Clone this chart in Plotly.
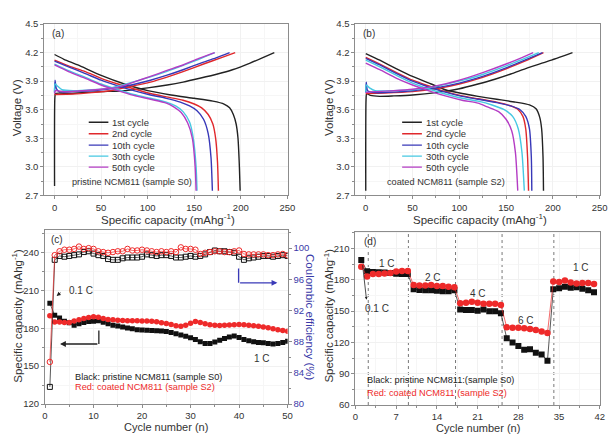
import plotly.graph_objects as go

FONT = "Arial, Liberation Sans, sans-serif"
TXT = "#333333"

# ---------------- Panel (a): pristine NCM811 charge/discharge ----------------
cycle_names = ["1st cycle", "2nd cycle", "10th cycle", "30th cycle", "50th cycle"]
cycle_colors = ["#222222", "#e0282c", "#3838b8", "#46c8e2", "#b43cc4"]

a_chg_x = [
    [0, 0.3, 1, 5, 15, 30, 50, 75, 100, 121, 138, 156, 175, 191, 210, 236],
    [0, 20, 40, 60, 80, 103, 120, 138, 160, 180, 194],
    [0, 0.5, 2, 5, 20, 40, 60, 80, 103, 120, 138, 160, 175, 188],
    [0, 0.5, 3, 8, 20, 40, 60, 80, 103, 120, 138, 155, 172],
    [0, 1, 10, 30, 50, 68, 85, 103, 120, 138, 155, 172],
]
a_chg_v = [
    [2.8, 3.72, 3.77, 3.775, 3.77, 3.78, 3.79, 3.80, 3.83, 3.86, 3.89, 3.93, 3.975, 4.02, 4.09, 4.2],
    [3.76, 3.765, 3.78, 3.80, 3.84, 3.89, 3.94, 4.00, 4.08, 4.15, 4.2],
    [3.78, 3.91, 3.82, 3.79, 3.79, 3.80, 3.82, 3.855, 3.91, 3.96, 4.02, 4.10, 4.15, 4.2],
    [3.78, 3.87, 3.85, 3.81, 3.80, 3.81, 3.83, 3.88, 3.945, 4.00, 4.065, 4.13, 4.2],
    [3.77, 3.80, 3.79, 3.80, 3.815, 3.835, 3.89, 3.95, 4.01, 4.07, 4.14, 4.2],
]
a_dis_x = [
    [0, 10, 25, 50, 75, 100, 125, 150, 170, 182, 188, 192, 195, 197, 198.5, 199.3],
    [0, 15, 33, 50, 68, 85, 103, 120, 138, 150, 158, 165, 170, 173, 175, 176],
    [0, 15, 33, 50, 68, 85, 103, 120, 135, 145, 153, 160, 165, 168, 169.5],
    [0, 15, 33, 50, 68, 85, 103, 120, 130, 138, 145, 149, 152, 153],
    [0, 15, 33, 50, 68, 85, 103, 120, 128, 136, 143, 148, 151, 152],
]
a_dis_v = [
    [4.18, 4.13, 4.07, 3.96, 3.87, 3.80, 3.755, 3.72, 3.69, 3.66, 3.62, 3.55, 3.45, 3.3, 3.0, 2.75],
    [4.12, 4.06, 4.0, 3.93, 3.87, 3.82, 3.77, 3.735, 3.70, 3.66, 3.62, 3.55, 3.45, 3.3, 3.05, 2.75],
    [4.11, 4.05, 3.98, 3.91, 3.85, 3.80, 3.755, 3.72, 3.68, 3.64, 3.59, 3.5, 3.35, 3.1, 2.75],
    [4.08, 4.01, 3.94, 3.87, 3.81, 3.76, 3.72, 3.68, 3.64, 3.58, 3.47, 3.3, 3.0, 2.75],
    [4.07, 4.00, 3.93, 3.86, 3.80, 3.75, 3.71, 3.67, 3.63, 3.57, 3.46, 3.3, 3.0, 2.75],
]

# ---------------- Panel (b): coated NCM811 charge/discharge ----------------
b_chg_x = [
    [0, 0.3, 1, 5, 15, 30, 50, 75, 100, 120, 138, 155, 173, 195, 221],
    [0, 20, 50, 75, 100, 125, 150, 170, 190],
    [0, 0.5, 2, 10, 30, 50, 75, 100, 125, 150, 170, 189],
    [0, 0.5, 4, 10, 30, 50, 75, 100, 125, 150, 170, 185],
    [0, 10, 30, 50, 75, 100, 125, 150, 165, 179],
]
b_chg_v = [
    [2.75, 3.7, 3.77, 3.75, 3.74, 3.745, 3.755, 3.78, 3.82, 3.87, 3.92, 3.975, 4.04, 4.11, 4.2],
    [3.77, 3.775, 3.79, 3.82, 3.87, 3.94, 4.03, 4.11, 4.2],
    [3.78, 3.89, 3.80, 3.78, 3.785, 3.80, 3.83, 3.88, 3.95, 4.04, 4.12, 4.2],
    [3.79, 3.86, 3.83, 3.80, 3.80, 3.81, 3.845, 3.90, 3.97, 4.06, 4.14, 4.2],
    [3.78, 3.79, 3.80, 3.815, 3.85, 3.91, 3.99, 4.08, 4.14, 4.2],
]
b_dis_x = [
    [0, 15, 33, 50, 70, 85, 103, 120, 140, 160, 175, 182, 186, 188, 189.5, 190],
    [0, 15, 33, 50, 70, 85, 103, 120, 140, 155, 163, 168, 171, 173, 174],
    [0, 15, 33, 50, 70, 85, 103, 120, 140, 155, 165, 171, 175, 177, 177.5],
    [0, 15, 33, 50, 70, 85, 103, 120, 135, 148, 157, 163, 167, 169.5],
    [0, 15, 33, 50, 70, 85, 103, 120, 130, 142, 150, 156, 160, 162.5],
]
b_dis_v = [
    [4.19, 4.12, 4.03, 3.95, 3.87, 3.81, 3.77, 3.74, 3.71, 3.68, 3.65, 3.61, 3.52, 3.4, 3.1, 2.75],
    [4.15, 4.08, 3.99, 3.91, 3.84, 3.79, 3.745, 3.715, 3.68, 3.64, 3.6, 3.53, 3.4, 3.1, 2.75],
    [4.14, 4.07, 3.98, 3.90, 3.83, 3.785, 3.74, 3.71, 3.675, 3.64, 3.6, 3.53, 3.4, 3.1, 2.75],
    [4.12, 4.05, 3.96, 3.88, 3.81, 3.765, 3.72, 3.69, 3.65, 3.6, 3.53, 3.4, 3.15, 2.75],
    [4.09, 4.02, 3.93, 3.86, 3.79, 3.745, 3.70, 3.67, 3.63, 3.58, 3.5, 3.38, 3.15, 2.75],
]

# ---------------- Panel (c): cycling at 1 C ----------------
c_cycles = list(range(1, 51))
c_cap_s0 = [199.7, 190.2, 188.1, 185.5, 184.3, 182.4, 183.5, 184.5, 185.3, 185.5,
            185.8, 184.7, 183.5, 182.4, 181.7, 180.9, 180.1, 179.6, 178.8, 178.5,
            178.3, 178.1, 178.0, 177.7, 177.3, 176.5, 175.7, 174.6, 173.6, 172.5,
            171.0, 169.2, 167.9, 167.9, 169.0, 170.5, 171.8, 173.1, 173.9, 172.6,
            171.0, 170.0, 169.2, 168.7, 168.5, 167.9, 167.4, 167.9, 168.7, 169.7]
c_cap_s2 = [189.9, 184.8, 184.8, 184.5, 184.5, 185.6, 186.6, 187.6, 188.4, 189.0,
            188.7, 187.6, 186.9, 186.6, 186.3, 186.0, 185.9, 185.8, 185.8, 185.7,
            185.6, 185.4, 185.0, 184.4, 183.8, 183.0, 181.9, 181.5, 182.4, 184.0,
            185.3, 184.6, 183.6, 182.8, 182.4, 182.2, 182.3, 182.6, 182.8, 183.0,
            182.8, 182.4, 182.0, 181.6, 181.0, 180.3, 179.5, 178.8, 178.2, 177.6]
c_ce_s0 = [82.2, 98.5, 99.0, 98.9, 99.0, 99.1, 99.2, 99.5, 99.6, 99.3,
           99.1, 99.0, 98.6, 98.5, 98.5, 98.7, 98.8, 98.8, 98.8, 98.9,
           99.2, 99.1, 99.0, 99.1, 99.1, 99.0, 98.8, 98.8, 98.9, 99.0,
           98.9, 99.0, 99.2, 99.5, 99.7, 99.6, 99.6, 99.5, 99.4, 98.9,
           98.5, 98.7, 98.8, 98.9, 99.0, 99.0, 98.9, 99.0, 99.1, 99.0]
c_ce_s2 = [85.4, 99.1, 99.6, 99.8, 99.8, 99.9, 100.2, 99.9, 100.0, 99.9,
           99.6, 99.5, 99.4, 99.5, 99.6, 99.6, 99.9, 99.7, 99.7, 99.8,
           99.7, 99.6, 99.5, 99.6, 99.5, 99.6, 99.5, 100.1, 99.9, 99.9,
           99.8, 99.25, 99.4, 99.5, 99.6, 99.6, 99.5, 99.5, 99.6, 99.7,
           99.25, 99.2, 99.2, 99.2, 99.2, 99.1, 99.1, 99.2, 99.25, 99.1]

# ---------------- Panel (d): rate capability ----------------
d_cycles = list(range(1, 42))
d_cap_s0 = [199.0, 188.2, 187.5, 187.3, 187.0, 186.5, 185.8, 185.5, 185.5,
            171.0, 170.2, 170.0, 170.0, 169.5, 169.0, 169.0, 170.0,
            151.5, 151.0, 151.0, 150.5, 151.5, 150.0, 150.0, 148.0,
            124.0, 120.0, 116.5, 113.0, 113.5, 110.0, 108.5, 102.5,
            171.0, 172.0, 173.5, 172.5, 173.0, 171.5, 170.0, 168.0]
d_cap_s2 = [192.5, 183.2, 185.7, 185.5, 186.0, 186.5, 188.0, 188.5, 188.5,
            175.0, 174.5, 174.5, 175.0, 174.0, 174.0, 173.5, 173.0,
            157.5, 158.0, 159.0, 158.0, 157.0, 157.0, 157.0, 156.0,
            134.5, 134.0, 134.0, 133.5, 133.0, 132.0, 130.5, 129.0,
            178.5, 178.0, 179.5, 177.5, 176.5, 177.0, 177.0, 176.0]
d_dividers = [2.2, 9.1, 17.2, 25.2, 34.1]
d_rate_labels = ["1 C", "2 C", "4 C", "6 C", "1 C"]
d_rate_x = [5.5, 13.3, 21.1, 29.3, 38.8]
d_rate_y = [195.5, 182.4, 166.8, 141.0, 191.8]

fig = go.Figure()

for i in range(5):
    for xs, ys in [(a_chg_x[i], a_chg_v[i]), (a_dis_x[i], a_dis_v[i])]:
        fig.add_trace(go.Scatter(x=xs, y=ys, mode="lines", xaxis="x", yaxis="y",
                                 line=dict(color=cycle_colors[i], width=1.4, shape="spline", smoothing=0.6),
                                 showlegend=False))
    for xs, ys in [(b_chg_x[i], b_chg_v[i]), (b_dis_x[i], b_dis_v[i])]:
        fig.add_trace(go.Scatter(x=xs, y=ys, mode="lines", xaxis="x2", yaxis="y2",
                                 line=dict(color=cycle_colors[i], width=1.4, shape="spline", smoothing=0.6),
                                 showlegend=False))

BLACK = "#111111"
RED = "#ee2a2a"
BLUE_AX = "#3a3aa8"
# panel c
fig.add_trace(go.Scatter(x=c_cycles, y=c_ce_s0, mode="lines+markers", xaxis="x3", yaxis="y5",
                         line=dict(color=BLACK, width=0.7),
                         marker=dict(symbol="square-open", size=5, color=BLACK, line=dict(width=1)),
                         showlegend=False))
fig.add_trace(go.Scatter(x=c_cycles, y=c_ce_s2, mode="lines+markers", xaxis="x3", yaxis="y5",
                         line=dict(color=RED, width=0.7),
                         marker=dict(symbol="circle-open", size=5.5, color=RED, line=dict(width=1)),
                         showlegend=False))
fig.add_trace(go.Scatter(x=c_cycles, y=c_cap_s0, mode="lines+markers", xaxis="x3", yaxis="y3",
                         line=dict(color=BLACK, width=0.7),
                         marker=dict(symbol="square", size=5, color=BLACK),
                         showlegend=False))
fig.add_trace(go.Scatter(x=c_cycles, y=c_cap_s2, mode="lines+markers", xaxis="x3", yaxis="y3",
                         line=dict(color=RED, width=0.7),
                         marker=dict(symbol="circle", size=5.5, color=RED),
                         showlegend=False))
# panel d
fig.add_trace(go.Scatter(x=d_cycles, y=d_cap_s0, mode="lines+markers", xaxis="x4", yaxis="y4",
                         line=dict(color=BLACK, width=0.7),
                         marker=dict(symbol="square", size=6, color=BLACK),
                         showlegend=False))
fig.add_trace(go.Scatter(x=d_cycles, y=d_cap_s2, mode="lines+markers", xaxis="x4", yaxis="y4",
                         line=dict(color=RED, width=0.7),
                         marker=dict(symbol="circle", size=6.5, color=RED),
                         showlegend=False))

LINE = "#8c8c8c"
def ax(**kw):
    base = dict(showline=True, linecolor=LINE, linewidth=1, mirror=True, ticks="outside",
                ticklen=3, tickcolor=LINE, showgrid=True, gridcolor="#f1f1f1", zeroline=False,
                tickfont=dict(size=9.5, color=TXT, family=FONT),
                minor=dict(ticks="outside", ticklen=2, tickcolor=LINE, showgrid=True, gridcolor="#f6f6f6"))
    base.update(kw)
    return base

W, H = 614, 438
def dx(a, b): return [a / W, b / W]
def dy(top, bot): return [1 - bot / H, 1 - top / H]

fig.update_layout(
    width=W, height=H, margin=dict(l=0, r=0, t=0, b=0),
    paper_bgcolor="white", plot_bgcolor="white",
    font=dict(family=FONT, color=TXT),
    xaxis=ax(domain=dx(42, 290), range=[-11, 251], tickvals=[0, 50, 100, 150, 200, 250], anchor="y",
             minor_dtick=25),
    yaxis=ax(domain=dy(18.5, 194.3), range=[2.7, 4.5], tickvals=[2.7, 3.0, 3.3, 3.6, 3.9, 4.2, 4.5],
             tickformat=".1f", anchor="x", minor_dtick=0.15),
    xaxis2=ax(domain=dx(358.3, 606.5), range=[-11, 250], tickvals=[0, 50, 100, 150, 200, 250], anchor="y2",
              minor_dtick=25),
    yaxis2=ax(domain=dy(18.5, 194.3), range=[2.7, 4.5], tickvals=[2.7, 3.0, 3.3, 3.6, 3.9, 4.2, 4.5],
              tickformat=".1f", anchor="x2", minor_dtick=0.15),
    xaxis3=ax(domain=dx(42.7, 289.3), range=[0, 50], tickvals=[0, 10, 20, 30, 40, 50], anchor="y3",
              minor_dtick=5),
    yaxis3=ax(domain=dy(230, 408.3), range=[120, 257.5], tickvals=[120, 150, 180, 210, 240], anchor="x3",
              minor_dtick=15, mirror=False),
    yaxis5=dict(overlaying="y3", side="right", anchor="x3", range=[80, 102.3],
                tickvals=[80, 84, 88, 92, 96, 100], showgrid=False, zeroline=False,
                showline=True, linecolor=LINE, ticks="outside", ticklen=3, tickcolor=LINE,
                tickfont=dict(size=9.5, color=BLUE_AX, family=FONT),
                minor=dict(ticks="outside", ticklen=2, tickcolor=LINE, dtick=2)),
    xaxis4=ax(domain=dx(358.3, 606.7), range=[0, 42], tickvals=[0, 7, 14, 21, 28, 35, 42], anchor="y4",
              minor_dtick=3.5),
    yaxis4=ax(domain=dy(231.7, 409.3), range=[60, 226], tickvals=[60, 90, 120, 150, 180, 210], anchor="x4",
              minor_dtick=15),
)

shapes = []
ann = []

def text(x, y, s, xref, yref, size=9.5, color=TXT, xanchor="left", angle=0, yanchor="middle"):
    ann.append(dict(x=x, y=y, xref=xref, yref=yref, text=s, showarrow=False, xanchor=xanchor,
                    yanchor=yanchor, textangle=angle, font=dict(size=size, color=color, family=FONT)))

def ptext(px, py, s, size=11.5, color=TXT, angle=0):
    ann.append(dict(x=px / W, y=1 - py / H, xref="paper", yref="paper", text=s, showarrow=False,
                    xanchor="center", yanchor="middle", textangle=angle,
                    font=dict(size=size, color=color, family=FONT)))

cap_title = "Specific capacity (mAhg<sup>-1</sup>)"
ptext(15, 104, "Voltage (V)", angle=-90)
ptext(168, 218, cap_title)
ptext(332, 104, "Voltage (V)", angle=-90)
ptext(485, 218, cap_title)
ptext(14, 318, cap_title, angle=-90)
ptext(312, 320, "Coulombic efficiency (%)", color=BLUE_AX, angle=90)
ptext(166, 432, "Cycle number (n)", size=11)
ptext(331, 318, cap_title, angle=-90)
ptext(483, 432.5, "Cycle number (n)", size=11)

# legends for panels a & b
leg_v = [3.468, 3.348, 3.228, 3.113, 2.997]
for i in range(5):
    shapes.append(dict(type="line", xref="x", yref="y", x0=36.7, x1=57.8, y0=leg_v[i], y1=leg_v[i],
                       line=dict(color=cycle_colors[i], width=1.4)))
    text(59.9, leg_v[i], cycle_names[i], "x", "y", size=9.5)
    shapes.append(dict(type="line", xref="x2", yref="y2", x0=38.9, x1=60, y0=leg_v[i], y1=leg_v[i],
                       line=dict(color=cycle_colors[i], width=1.4)))
    text(61.8, leg_v[i], cycle_names[i], "x2", "y2", size=9.5)
text(16.6, 2.846, "pristine NCM811 (sample S0)", "x", "y", size=9.2)
text(21, 2.84, "coated NCM811 (sample S2)", "x2", "y2", size=9.2)
text(-4.5, 4.40, "(a)", "x", "y", size=10)
text(-5.3, 4.40, "(b)", "x2", "y2", size=10)

# panel c annotations
text(0.8, 249.8, "(c)", "x3", "y3", size=10)
text(4.5, 209.9, "0.1 C", "x3", "y3", size=10)
ann.append(dict(x=2.4, y=205.5, xref="x3", yref="y3", ax=3.5, ay=209.0, axref="x3", ayref="y3",
                text="", showarrow=True, arrowhead=2, arrowsize=0.8, arrowwidth=1, arrowcolor="#222"))
text(44.7, 155.9, "1 C", "x3", "y3", size=10, xanchor="center")
text(5.68, 141.6, "Black: pristine NCM811 (sample S0)", "x3", "y3", size=9.2, color="#222")
text(5.68, 133.4, "Red: coated NCM811 (sample S2)", "x3", "y3", size=9.2, color=RED)
shapes.append(dict(type="line", xref="x3", yref="y3", x0=11.1, x1=11.1, y0=178.2, y1=167.5,
                   line=dict(color="#222", width=1.3)))
ann.append(dict(x=3.1, y=167.5, xref="x3", yref="y3", ax=11.1, ay=167.5, axref="x3", ayref="y3",
                text="", showarrow=True, arrowhead=2, arrowsize=0.9, arrowwidth=1.3, arrowcolor="#222"))
shapes.append(dict(type="line", xref="x3", yref="y3", x0=39.9, x1=39.9, y0=227.2, y1=215.9,
                   line=dict(color="#3a3ab8", width=1.3)))
ann.append(dict(x=47.9, y=215.9, xref="x3", yref="y3", ax=39.9, ay=215.9, axref="x3", ayref="y3",
                text="", showarrow=True, arrowhead=2, arrowsize=0.9, arrowwidth=1.3, arrowcolor="#3a3ab8"))

# panel d annotations
for xv in d_dividers:
    shapes.append(dict(type="line", xref="x4", yref="y4", x0=xv, x1=xv, y0=60, y1=226,
                       line=dict(color="#777", width=1, dash="dot"), layer="below"))
for s, xv, yv in zip(d_rate_labels, d_rate_x, d_rate_y):
    text(xv, yv, s, "x4", "y4", size=10, xanchor="center")
text(1.1, 216.7, "(d)", "x4", "y4", size=10)
text(3.7, 152.8, "0.1 C", "x4", "y4", size=10, xanchor="center")
ann.append(dict(x=1.9, y=161.0, xref="x4", yref="y4", ax=1.2, ay=195.5, axref="x4", ayref="y4",
                text="", showarrow=True, arrowhead=2, arrowsize=0.7, arrowwidth=0.8, arrowcolor="#222"))
text(1.69, 83.8, "Black: pristine NCM811:(sample S0)", "x4", "y4", size=9.2, color="#222")
text(1.69, 71.4, "Red: coated NCM811 (sample S2)", "x4", "y4", size=9.2, color=RED)

fig.update_layout(shapes=shapes, annotations=ann)
fig.write_html("out.html")
